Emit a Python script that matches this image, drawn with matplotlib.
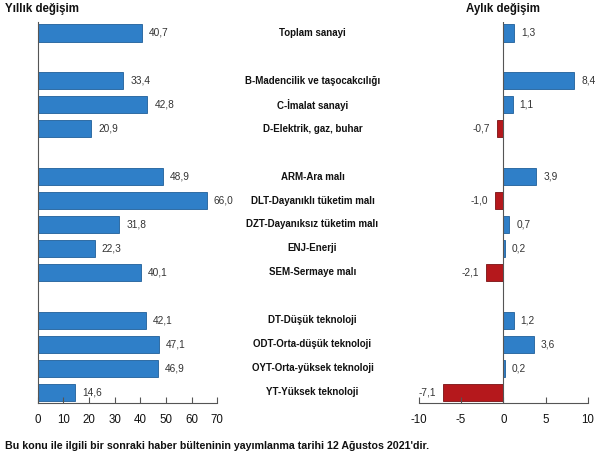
import matplotlib
matplotlib.use("Agg")
import matplotlib.pyplot as plt
import matplotlib.transforms as mtransforms

plt.rcParams['font.family'] = ['Liberation Sans', 'DejaVu Sans']
plt.rcParams['axes.unicode_minus'] = False

categories = [
    'Toplam sanayi',
    'B-Madencilik ve taşocakcılığı', 'C-İmalat sanayi', 'D-Elektrik, gaz, buhar',
    'ARM-Ara malı', 'DLT-Dayanıklı tüketim malı', 'DZT-Dayanıksız tüketim malı',
    'ENJ-Enerji', 'SEM-Sermaye malı',
    'DT-Düşük teknoloji', 'ODT-Orta-düşük teknoloji', 'OYT-Orta-yüksek teknoloji',
    'YT-Yüksek teknoloji',
]
# row slots (an empty slot between groups)
slots = [0, 2, 3, 4, 6, 7, 8, 9, 10, 12, 13, 14, 15]
yearly = [40.7, 33.4, 42.8, 20.9, 48.9, 66.0, 31.8, 22.3, 40.1, 42.1, 47.1, 46.9, 14.6]
monthly = [1.3, 8.4, 1.1, -0.7, 3.9, -1.0, 0.7, 0.2, -2.1, 1.2, 3.6, 0.2, -7.1]

BLUE = '#2f7fc8'
BLUE_EDGE = '#1f5f9a'
RED = '#b5181c'
RED_EDGE = '#7a1012'
AXIS = '#555555'
TXT = '#111111'


def fmt(v):
    return f"{v:.1f}".replace('.', ',')


def style_axis(ax):
    ax.set_ylim(15.45, -0.45)
    ax.set_yticks([])
    ax.spines['top'].set_visible(False)
    ax.spines['right'].set_visible(False)
    ax.spines['bottom'].set_color(AXIS)
    ax.tick_params(axis='x', direction='in', length=4, labelsize=8.3, pad=8,
                   color=AXIS, labelcolor=TXT)


fig = plt.figure(figsize=(6.0, 4.61), dpi=100)

# --- yıllık ---
ax1 = fig.add_axes([0.063, 0.126, 0.299, 0.826])
ax1.barh(slots, yearly, height=0.72, color=BLUE, edgecolor=BLUE_EDGE, linewidth=0.6)
for y, v in zip(slots, yearly):
    ax1.annotate(fmt(v), (v, y), xytext=(5, 0), textcoords='offset points',
                 va='center', ha='left', fontsize=7.3, color='#333333')
ax1.set_xlim(0, 70)
ax1.set_xticks(range(0, 71, 10))
style_axis(ax1)
ax1.spines['left'].set_color(AXIS)

# --- aylık ---
ax2 = fig.add_axes([0.698, 0.126, 0.282, 0.826])
colors = [BLUE if v >= 0 else RED for v in monthly]
edges = [BLUE_EDGE if v >= 0 else RED_EDGE for v in monthly]
ax2.barh(slots, monthly, height=0.72, color=colors, edgecolor=edges, linewidth=0.6)
for y, v in zip(slots, monthly):
    if v >= 0:
        ax2.annotate(fmt(v), (v, y), xytext=(5, 0), textcoords='offset points',
                     va='center', ha='left', fontsize=7.3, color='#333333')
    else:
        ax2.annotate(fmt(v), (v, y), xytext=(-5, 0), textcoords='offset points',
                     va='center', ha='right', fontsize=7.3, color='#333333')
ax2.set_xlim(-10, 10)
ax2.set_xticks([-10, -5, 0, 5, 10])
style_axis(ax2)
ax2.spines['left'].set_visible(False)
ax2.axvline(0, color=AXIS, linewidth=0.8)

# kategori etiketleri ortada
trans = mtransforms.blended_transform_factory(fig.transFigure, ax1.transData)
for y, name in zip(slots, categories):
    fig.text(312.5 / 600, y, name, transform=trans, ha='center', va='center',
             fontsize=7.0, fontweight='bold', color=TXT)

fig.text(5 / 600, 1 - 9 / 461, 'Yıllık değişim', ha='left', va='center',
         fontsize=8.3, fontweight='bold', color=TXT)
fig.text(503 / 600, 1 - 9 / 461, 'Aylık değişim', ha='center', va='center',
         fontsize=8.3, fontweight='bold', color=TXT)
fig.text(5 / 600, 1 - 446 / 461,
         "Bu konu ile ilgili bir sonraki haber bülteninin yayımlanma tarihi 12 Ağustos 2021'dir.",
         ha='left', va='center', fontsize=7.7, fontweight='bold', color=TXT)

fig.savefig('out.png', dpi=100)
